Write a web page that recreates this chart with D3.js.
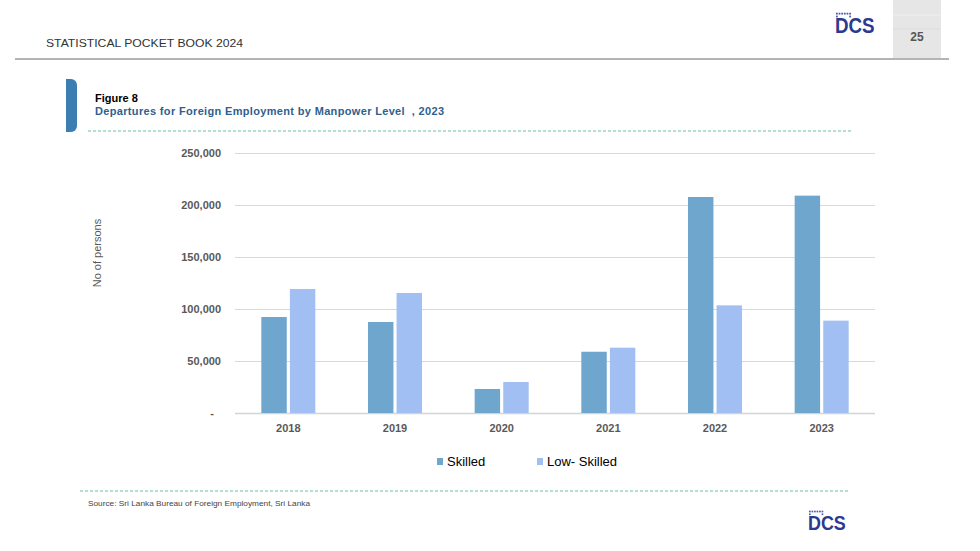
<!DOCTYPE html>
<html>
<head>
<meta charset="utf-8">
<script src="https://cdn.jsdelivr.net/npm/d3@7"></script>
<style>
  html, body { margin: 0; padding: 0; background: #fff; }
  svg { display: block; font-family: "Liberation Sans", Arial, sans-serif; }
</style>
</head>
<body>
<svg id="chart" width="980" height="551"></svg>
<script>
// data
const years = ["2018", "2019", "2020", "2021", "2022", "2023"];
const skilled = [92300, 87500, 23100, 58900, 207700, 209000];
const lowSkilled = [119200, 115400, 29800, 62800, 103500, 88800];
const seriesNames = ["Skilled", "Low- Skilled"];
const yTicks = [0, 50000, 100000, 150000, 200000, 250000];

const colors = { skilled: "#6fa6cd", low: "#a1bff2" };

const svg = d3.select("#chart");

// ---- page header ----
svg.append("rect").attr("x", 893).attr("y", 0).attr("width", 48).attr("height", 58).attr("fill", "#e6e6e6");
svg.append("line").attr("x1", 893).attr("x2", 941).attr("y1", 15).attr("y2", 15).attr("stroke", "#efefef");
svg.append("line").attr("x1", 893).attr("x2", 941).attr("y1", 29).attr("y2", 29).attr("stroke", "#dcdcdc");
svg.append("text").attr("x", 917).attr("y", 41).attr("text-anchor", "middle")
  .attr("font-size", 12).attr("font-weight", "bold").attr("fill", "#555").text("25");
svg.append("line").attr("x1", 15).attr("x2", 949).attr("y1", 59).attr("y2", 59)
  .attr("stroke", "#b4b4b4").attr("stroke-width", 2);
svg.append("text").attr("x", 46).attr("y", 47).attr("font-size", 10.5).attr("fill", "#333")
  .attr("textLength", 197).attr("lengthAdjust", "spacingAndGlyphs")
  .text("STATISTICAL POCKET BOOK 2024");

const drawLogo = (x, y, size) => {
  const g = svg.append("g").attr("transform", `translate(${x},${y})`);
  g.append("text").attr("x", 0).attr("y", 0).attr("font-size", size).attr("font-weight", "bold")
    .attr("fill", "#2b3990").attr("textLength", size * 1.8).attr("lengthAdjust", "spacingAndGlyphs").text("DCS");
  for (let i = 0; i < 6; i++) {
    g.append("rect").attr("x", 1 + i * size * 0.12).attr("y", -size * 0.92).attr("width", size * 0.08)
      .attr("height", size * 0.08).attr("fill", "#4a5aa8");
  }
  g.append("rect").attr("x", 1).attr("y", -size * 0.79).attr("width", size * 0.08).attr("height", size * 0.08).attr("fill", "#4a5aa8");
  g.append("rect").attr("x", 1 + 5 * size * 0.12).attr("y", -size * 0.79).attr("width", size * 0.08).attr("height", size * 0.08).attr("fill", "#4a5aa8");
};
drawLogo(835, 33, 22);
drawLogo(808, 530, 21);

// ---- figure heading ----
svg.append("path").attr("d", "M66,79 h5 a6,6 0 0 1 6,6 v41 a6,6 0 0 1 -6,6 h-5 z").attr("fill", "#3b7fb2");
svg.append("text").attr("x", 95).attr("y", 102).attr("font-size", 11).attr("font-weight", "bold")
  .attr("fill", "#000").text("Figure 8");
svg.append("text").attr("x", 95).attr("y", 115).attr("font-size", 11).attr("font-weight", "bold")
  .attr("fill", "#2f5f8f").attr("xml:space", "preserve")
  .attr("textLength", 349).attr("lengthAdjust", "spacing")
  .text("Departures for Foreign Employment by Manpower Level  , 2023");
svg.append("line").attr("x1", 88).attr("x2", 852).attr("y1", 131).attr("y2", 131)
  .attr("stroke", "#63c3a1").attr("stroke-dasharray", "3,2");
svg.append("line").attr("x1", 80).attr("x2", 848).attr("y1", 491).attr("y2", 491)
  .attr("stroke", "#63c3a1").attr("stroke-dasharray", "3,2");
svg.append("text").attr("x", 88).attr("y", 506).attr("font-size", 7.5).attr("fill", "#444")
  .attr("textLength", 222).attr("lengthAdjust", "spacingAndGlyphs")
  .text("Source: Sri Lanka Bureau of Foreign Employment, Sri Lanka");

// ---- chart ----
const x = d3.scaleBand().domain(years).range([235, 875]);
const xs = d3.scaleBand().domain(seriesNames).range([0, 54]).paddingInner(0.11);
const y = d3.scaleLinear().domain([0, 250000]).range([413, 153]);

svg.append("g").selectAll("line").data(yTicks).join("line")
  .attr("x1", 235).attr("x2", 875)
  .attr("y1", d => Math.round(y(d)) + 0.5).attr("y2", d => Math.round(y(d)) + 0.5)
  .attr("stroke", d => d === 0 ? "#d4d4d4" : "#d9d9d9").attr("stroke-width", d => d === 0 ? 1.5 : 1);

const fmt = d3.format(",");
svg.append("g").attr("transform", "translate(221,0)")
  .call(d3.axisLeft(y).tickValues(yTicks).tickSize(0).tickPadding(0).tickFormat(d => d === 0 ? "-" : fmt(d)))
  .call(g => g.select(".domain").remove())
  .selectAll("text").attr("font-size", 11).attr("font-weight", "bold").attr("fill", "#595959")
  .attr("font-family", "Liberation Sans, Arial, sans-serif")
  .attr("dx", d => d === 0 ? -7 : 0);

svg.append("g").attr("transform", "translate(0,424)")
  .call(d3.axisBottom(x).tickSize(0).tickPadding(0))
  .call(g => g.select(".domain").remove())
  .selectAll("text").attr("dy", "0.71em").attr("font-size", 11).attr("font-weight", "bold").attr("fill", "#595959")
  .attr("font-family", "Liberation Sans, Arial, sans-serif");

const rows = years.map((yr, i) => ({ year: yr, vals: [skilled[i], lowSkilled[i]] }));
const groups = svg.append("g").selectAll("g").data(rows).join("g")
  .attr("transform", d => `translate(${x(d.year) + (x.bandwidth() - 54) / 2},0)`);
groups.selectAll("rect").data(d => d.vals.map((v, j) => ({ key: seriesNames[j], v }))).join("rect")
  .attr("x", d => xs(d.key)).attr("width", xs.bandwidth())
  .attr("y", d => y(d.v)).attr("height", d => y(0) - y(d.v))
  .attr("fill", d => d.key === "Skilled" ? colors.skilled : colors.low);

svg.append("text").attr("x", 97).attr("y", 253).attr("transform", "rotate(-90,97,253)")
  .attr("text-anchor", "middle").attr("dy", "0.35em").attr("font-size", 11).attr("fill", "#595959").text("No of persons");

// legend
const legend = svg.append("g").selectAll("g").data(seriesNames).join("g")
  .attr("transform", (d, i) => `translate(${i === 0 ? 437 : 537},458)`);
legend.append("rect").attr("width", 6).attr("height", 7).attr("fill", d => d === "Skilled" ? colors.skilled : colors.low);
legend.append("text").attr("x", 10).attr("y", 8).attr("font-size", 13).attr("fill", "#000").text(d => d);
</script>
</body>
</html>
